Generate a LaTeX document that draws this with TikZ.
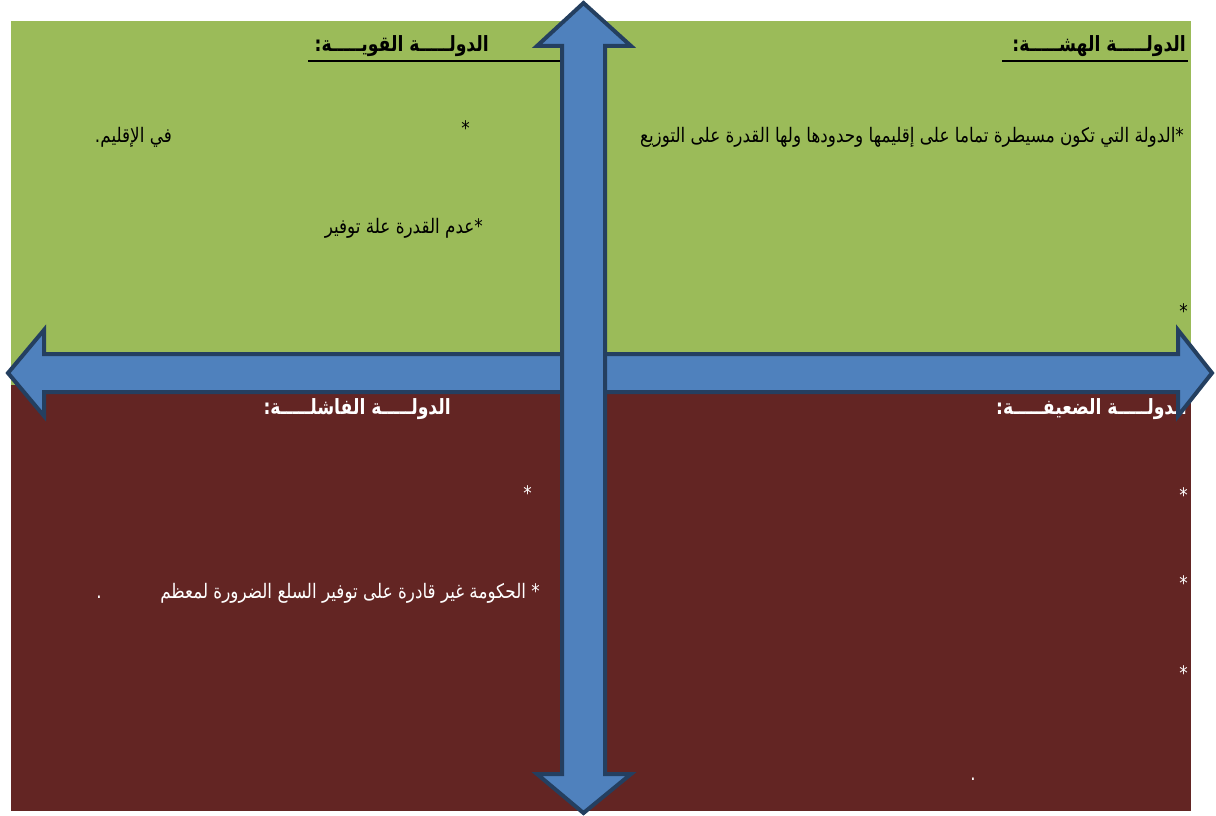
\documentclass[tikz,border=0pt]{standalone}
\usepackage{fontspec}
\TeXXeTstate=1
\newfontfamily\arabicbody[Script=Arabic,FakeStretch=0.84]{DejaVu Sans}
\newfontfamily\arabichead[Script=Arabic,FakeStretch=0.82]{DejaVu Sans}
\definecolor{qgreen}{HTML}{9BBB59}
\definecolor{qred}{HTML}{632523}
\definecolor{afill}{HTML}{4F81BD}
\definecolor{aline}{HTML}{243F60}
\tikzset{
  heading/.style={font=\arabichead\bfseries\fontsize{21}{24}\selectfont, inner sep=0pt, anchor=base east},
  body/.style={font=\arabicbody\fontsize{20}{24}\selectfont, inner sep=0pt, anchor=base east},
  ruleline/.style={line width=1.5pt, black},
  bigarrow/.style={fill=afill, draw=aline, line width=4pt, line join=miter},
}
\begin{document}
\begin{tikzpicture}[x=1pt,y=-1pt]
\useasboundingbox (0,0) rectangle (1216,816);
\fill[qgreen] (11,21) rectangle (1191,385);
\fill[qred] (11,385) rectangle (1191,811);

% top-right quadrant
\node[heading] (h1) at (1186,52) {\beginR الدولـــــة الهشـــــة:\endR};
\coordinate (u1a) at (1002,61);
\coordinate (u1b) at (1188,61);
\draw[ruleline] (u1a) -- (u1b);
\node[body] (t1) at (1184,142) {\beginR *الدولة التي تكون مسيطرة تماما على إقليمها وحدودها ولها القدرة على التوزيع\endR};
\node[body] (s1) at (1188,318) {*};

% top-left quadrant
\node[heading] (h2) at (489,52) {\beginR الدولـــــة القويـــــة:\endR};
\coordinate (u2a) at (308,61);
\coordinate (u2b) at (565,61);
\draw[ruleline] (u2a) -- (u2b);
\node[body] (s2) at (470,135) {*};
\node[body] (t2) at (172,142) {\beginR في الإقليم.\endR};
\node[body] (t3) at (483,233) {\beginR *عدم القدرة علة توفير\endR};

% bottom-left quadrant
\node[heading, white] (h3) at (451,414) {\beginR الدولـــــة الفاشلـــــة:\endR};
\node[body, white] (s3) at (532,500) {*};
\node[body, white] (t4) at (540,598) {\beginR * الحكومة غير قادرة على توفير السلع الضرورة لمعظم\endR};
\node[body, white] (d1) at (102,598) {.};

% bottom-right quadrant
\node[heading, white] (h4) at (1187,414) {\beginR الدولـــــة الضعيفـــــة:\endR};
\node[body, white] (s4) at (1188,502) {*};
\node[body, white] (s5) at (1188,590) {*};
\node[body, white] (s6) at (1188,680) {*};
\node[body, white] (d2) at (976,780) {.};

% arrows
\draw[bigarrow] (8,373) -- (44,330) -- (44,354) -- (1178,354) -- (1178,330) -- (1212,373)
  -- (1178,416) -- (1178,392) -- (44,392) -- (44,416) -- cycle;
\draw[bigarrow] (583.5,3) -- (631,46) -- (605,46) -- (605,774) -- (631,774) -- (583.5,813)
  -- (537,774) -- (562,774) -- (562,46) -- (537,46) -- cycle;
\end{tikzpicture}
\end{document}
